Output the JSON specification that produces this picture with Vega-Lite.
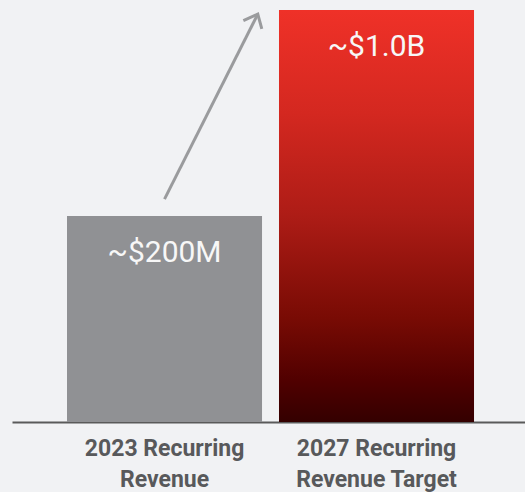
{
  "$schema": "https://vega.github.io/schema/vega-lite/v6.json",
  "width": 513,
  "height": 412,
  "autosize": {"type": "none"},
  "padding": {"left": 12, "top": 10, "right": 0, "bottom": 70},
  "background": "#f1f2f4",
  "config": {"view": {"stroke": null}, "font": "Roboto"},
  "datasets": {
    "bars": [
      {"label": "2023 Recurring|Revenue", "value": 0.5, "text": "~$200M"},
      {"label": "2027 Recurring|Revenue Target", "value": 1.0, "text": "~$1.0B"}
    ],
    "arrow": [
      {"pos": 1.0, "value": 0.541, "part": "shaft", "order": 0},
      {"pos": 1.44, "value": 0.99, "part": "shaft", "order": 1},
      {"pos": 1.372, "value": 0.974, "part": "head", "order": 0},
      {"pos": 1.44, "value": 0.99, "part": "head", "order": 1},
      {"pos": 1.459, "value": 0.954, "part": "head", "order": 2}
    ]
  },
  "resolve": {"scale": {"x": "independent"}},
  "layer": [
    {
      "data": {"name": "bars"},
      "encoding": {
        "x": {
          "field": "label",
          "type": "nominal",
          "sort": null,
          "scale": {"paddingInner": 0.08, "paddingOuter": 0.25, "align": 0.519},
          "axis": {
            "title": null,
            "ticks": false,
            "labelAngle": 0,
            "labelAlign": "center",
            "labelExpr": "split(datum.value, '|')",
            "labelFontSize": 23,
            "labelFontWeight": "bold",
            "labelColor": "#58595b",
            "labelPadding": 15,
            "labelLineHeight": 31,
            "labelLimit": 0,
            "domainColor": "#5a5a5a",
            "domainWidth": 2
          }
        },
        "y": {"field": "value", "type": "quantitative", "scale": {"domain": [0, 1]}, "axis": null}
      },
      "layer": [
        {
          "transform": [{"filter": "datum.text === '~$200M'"}],
          "mark": {"type": "bar", "color": "#909194"}
        },
        {
          "transform": [{"filter": "datum.text === '~$1.0B'"}],
          "mark": {
            "type": "bar",
            "color": {
              "gradient": "linear",
              "x1": 0, "y1": 0, "x2": 0, "y2": 1,
              "stops": [
                {"offset": 0, "color": "#ef3128"},
                {"offset": 0.25, "color": "#d42820"},
                {"offset": 0.5, "color": "#ad1c16"},
                {"offset": 0.75, "color": "#780b04"},
                {"offset": 0.9, "color": "#500000"},
                {"offset": 1, "color": "#340000"}
              ]
            }
          }
        },
        {
          "mark": {"type": "text", "dy": 46, "baseline": "alphabetic", "fontSize": 30, "color": "#f7f7f7", "font": "Roboto"},
          "encoding": {"text": {"field": "text"}}
        }
      ]
    },
    {
      "data": {"name": "arrow"},
      "mark": {"type": "line", "color": "#9a9b9d", "strokeWidth": 3, "strokeCap": "butt"},
      "encoding": {
        "x": {"field": "pos", "type": "quantitative", "scale": {"domain": [0.5, 2.5], "range": [46.5, 470.5]}, "axis": null},
        "y": {"field": "value", "type": "quantitative", "scale": {"domain": [0, 1]}, "axis": null},
        "detail": {"field": "part"},
        "order": {"field": "order"}
      }
    }
  ]
}
